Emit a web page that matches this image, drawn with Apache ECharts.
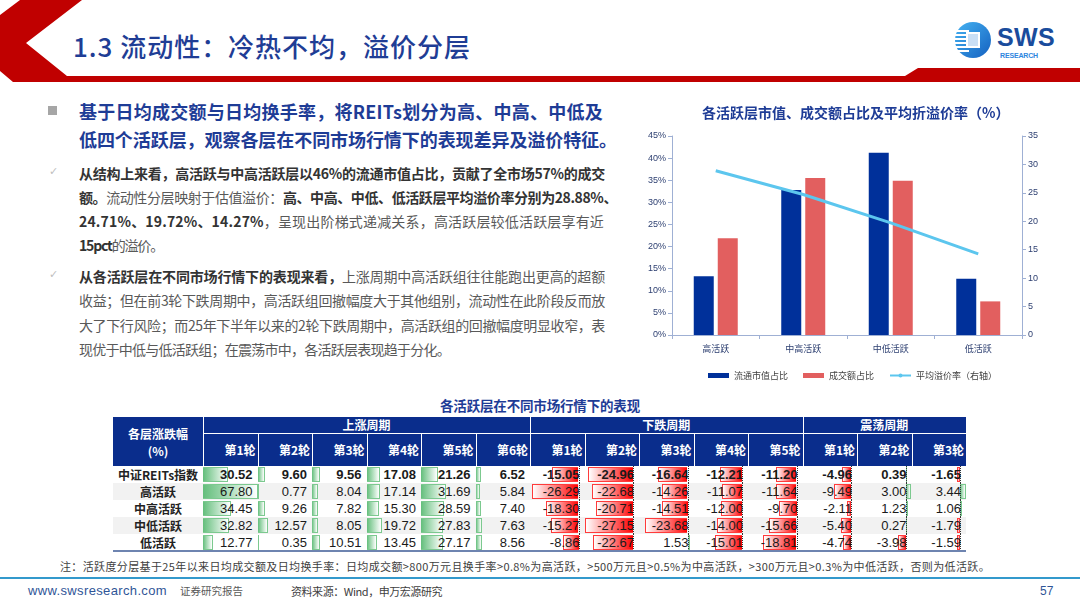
<!DOCTYPE html>
<html lang="zh-CN">
<head>
<meta charset="utf-8">
<title>1.3 流动性：冷热不均，溢价分层</title>
<script src="https://cdn.jsdelivr.net/npm/echarts@6.0.0/dist/echarts.min.js"></script>
<style>
  html, body { margin: 0; padding: 0; background: #fff; }
  body { width: 1080px; height: 608px; overflow: hidden; position: relative; font-family: "Noto Sans CJK SC", sans-serif; }
  .abs { position: absolute; white-space: nowrap; }
  [data-w] { display: inline-block; }
  .t18 { font-size: 18px; line-height: 24px; font-weight: 700; color: #1e3c96; }
  .t14 { font-size: 14px; line-height: 20px; color: #595959; }
  .t14 b { color: #333; font-weight: 700; }
  .tick { font-family: "DejaVu Sans"; font-size: 11px; color: #bfbfbf; }
  #chart { position: absolute; left: 640px; top: 95px; width: 440px; height: 290px; }
  #tbl { position: absolute; left: 113px; top: 417px; width: 853px; height: 136px; font-family: "Liberation Sans", "Noto Sans CJK SC", sans-serif; }
  #tbl div { position: absolute; box-sizing: border-box; }
  .hd { color: #fff; font-family: "Noto Sans CJK SC"; font-weight: 700; font-size: 12px; }
</style>
</head>
<body>
<!-- 页眉 -->
<svg class="abs" style="left:0;top:0" width="1080" height="84">
  <polygon fill="#c00000" points="20,0 82,0 26,43 67,76 905,76 918,68 1080,68 1080,82 13,82 0,71 0,15"/>
</svg>
<div class="abs" style="left:73px;top:28px;font-size:26px;line-height:36px;color:#1f3d95;font-weight:500" data-w="398">1.3 流动性：冷热不均，溢价分层</div>
<svg class="abs" style="left:952px;top:19px" width="44" height="44">
  <defs>
    <linearGradient id="lg" x1="0" y1="0" x2="1" y2="1">
      <stop offset="0" stop-color="#45b3f2"/>
      <stop offset="1" stop-color="#1460c0"/>
    </linearGradient>
  </defs>
  <circle cx="21" cy="21" r="18" fill="url(#lg)"/>
  <g fill="#fff">
    <rect x="4" y="11" width="13" height="2"/>
    <rect x="3" y="15" width="14" height="2"/>
    <rect x="3" y="19" width="14" height="2"/>
    <rect x="3" y="23" width="14" height="2"/>
    <rect x="3" y="27" width="14" height="2"/>
    <rect x="5" y="31" width="12" height="2"/>
    <rect x="14" y="13" width="14" height="16"/>
  </g>
  <rect x="16" y="15" width="10" height="12" fill="#2a7fd6" opacity="0.25"/>
</svg>
<div class="abs" style="left:997px;top:27px;font-family:'Liberation Sans';font-weight:700;font-size:25px;line-height:20px;color:#1a4c9c" data-w="58">SWS</div>
<div class="abs" style="left:1000px;top:52px;font-family:'Liberation Sans';font-weight:700;font-size:7px;line-height:8px;color:#2e86de" data-w="38">RESEARCH</div>

<!-- 正文 -->
<div class="abs" style="left:48px;top:106px;width:9px;height:9px;background:#a6a6a6"></div>
<div class="abs t18" style="left:79px;top:99px" data-w="524">基于日均成交额与日均换手率，将REITs划分为高、中高、中低及</div>
<div class="abs t18" style="left:79px;top:127px" data-w="538">低四个活跃层，观察各层在不同市场行情下的表现差异及溢价特征。</div>

<div class="abs tick" style="left:49px;top:165px">✓</div>
<div class="abs t14" style="left:79px;top:163px" data-w="526"><b>从结构上来看，高活跃与中高活跃层以46%的流通市值占比，贡献了全市场57%的成交</b></div>
<div class="abs t14" style="left:79px;top:187px" data-w="538"><b>额。</b>流动性分层映射于估值溢价：<b>高、中高、中低、低活跃层平均溢价率分别为28.88%、</b></div>
<div class="abs t14" style="left:79px;top:211px" data-w="525"><b>24.71%、19.72%、14.27%</b>，呈现出阶梯式递减关系，高活跃层较低活跃层享有近</div>
<div class="abs t14" style="left:79px;top:235px" data-w="84"><b>15pct</b>的溢价。</div>

<div class="abs tick" style="left:49px;top:268px">✓</div>
<div class="abs t14" style="left:79px;top:266px" data-w="526"><b>从各活跃层在不同市场行情下的表现来看，</b>上涨周期中高活跃组往往能跑出更高的超额</div>
<div class="abs t14" style="left:79px;top:290px" data-w="526">收益；但在前3轮下跌周期中，高活跃组回撤幅度大于其他组别，流动性在此阶段反而放</div>
<div class="abs t14" style="left:79px;top:315px" data-w="526">大了下行风险；而25年下半年以来的2轮下跌周期中，高活跃组的回撤幅度明显收窄，表</div>
<div class="abs t14" style="left:79px;top:339px" data-w="371">现优于中低与低活跃组；在震荡市中，各活跃层表现趋于分化。</div>

<div id="chart"></div>

<div class="abs" style="left:440px;top:396px;font-size:13.5px;line-height:18px;font-weight:700;color:#1e3c96" data-w="200">各活跃层在不同市场行情下的表现</div>
<div id="tbl"></div>

<div class="abs" style="left:60px;top:558px;font-size:11px;line-height:16px;color:#404040" data-w="930">注：活跃度分层基于25年以来日均成交额及日均换手率：日均成交额&gt;800万元且换手率&gt;0.8%为高活跃，&gt;500万元且&gt;0.5%为中高活跃，&gt;300万元且&gt;0.3%为中低活跃，否则为低活跃。</div>

<!-- 页脚 -->
<div class="abs" style="left:0;top:577px;width:1080px;height:2px;background:#3399cc"></div>
<div class="abs" style="left:28px;top:583px;font-family:'Liberation Sans';font-size:13px;line-height:16px;color:#2f5597" data-w="139">www.swsresearch.com</div>
<div class="abs" style="left:180px;top:583px;font-size:10.5px;line-height:15px;color:#595959" data-w="63">证券研究报告</div>
<div class="abs" style="left:291px;top:583px;font-size:11px;line-height:16px;color:#404040" data-w="151">资料来源：Wind，申万宏源研究</div>
<div class="abs" style="left:1040px;top:583px;font-family:'Liberation Sans';font-size:12px;line-height:16px;color:#2f5597">57</div>

<script>
// 图表数据
const tiers = ['高活跃', '中高活跃', '中低活跃', '低活跃']
const floatCapShare = [13.3, 32.8, 41.2, 12.7] // 流通市值占比 %
const turnoverShare = [21.9, 35.5, 34.9, 7.6] // 成交额占比 %
const avgPremium = [28.88, 24.71, 19.72, 14.27] // 平均溢价率（右轴）
const leftAxis = { min: 0, max: 45, interval: 5 }
const rightAxis = { min: 0, max: 35, interval: 5 }

// 表格数据
const rowNames = ['中证REITs指数', '高活跃', '中高活跃', '中低活跃', '低活跃']
const upMoves = [
  [30.52, 9.60, 9.56, 17.08, 21.26, 6.52],
  [67.80, 0.77, 8.04, 17.14, 31.69, 5.84],
  [34.45, 9.26, 7.82, 15.30, 28.59, 7.40],
  [32.82, 12.57, 8.05, 19.72, 27.83, 7.63],
  [12.77, 0.35, 10.51, 13.45, 27.17, 8.56]
]
const downMoves = [
  [-15.05, -24.96, -16.64, -12.21, -11.20],
  [-26.29, -22.68, -14.26, -11.07, -11.64],
  [-18.30, -20.71, -14.51, -12.00, -9.70],
  [-15.27, -27.15, -23.68, -14.00, -15.66],
  [-8.86, -22.67, 1.53, -15.01, -18.81]
]
const rangeMoves = [
  [-4.96, 0.39, -1.65],
  [-9.49, 3.00, 3.44],
  [-2.11, 1.23, 1.06],
  [-5.40, 0.27, -1.79],
  [-4.74, -3.98, -1.59]
]

const axisColor = '#9fb0d4'
const labelColor = '#2f4172'

// 渲染图表
const myChart = echarts.init(document.getElementById('chart'))
myChart.setOption({
  animation: false,
  textStyle: { fontFamily: 'Liberation Sans, Noto Sans CJK SC' },
  title: {
    text: '各活跃层市值、成交额占比及平均折溢价率（%）',
    left: 57,
    top: 6,
    textStyle: { fontSize: 14, fontWeight: 'bold', color: '#1e3c96', fontFamily: 'Noto Sans CJK SC' }
  },
  legend: {
    left: 63,
    top: 271,
    itemWidth: 21,
    itemHeight: 5,
    itemGap: 15,
    textStyle: { fontSize: 9, color: '#404040', fontFamily: 'Noto Sans CJK SC' },
    data: [
      { name: '流通市值占比', icon: 'rect' },
      { name: '成交额占比', icon: 'rect' },
      { name: '平均溢价率（右轴）' }
    ]
  },
  grid: { left: 32, right: 58, top: 41, bottom: 50, outerBoundsMode: 'none' },
  xAxis: {
    type: 'category',
    data: tiers,
    axisLine: { lineStyle: { color: axisColor } },
    axisTick: { show: true, length: 4, lineStyle: { color: axisColor } },
    axisLabel: { color: labelColor, fontSize: 9, margin: 9, fontFamily: 'Noto Sans CJK SC' }
  },
  yAxis: [
    {
      type: 'value',
      min: leftAxis.min,
      max: leftAxis.max,
      interval: leftAxis.interval,
      splitLine: { show: false },
      axisLine: { show: true, lineStyle: { color: axisColor } },
      axisTick: { show: true, length: 4, lineStyle: { color: axisColor } },
      axisLabel: { color: labelColor, fontSize: 9, margin: 6, formatter: '{value}%' }
    },
    {
      type: 'value',
      min: rightAxis.min,
      max: rightAxis.max,
      interval: rightAxis.interval,
      splitLine: { show: false },
      axisLine: { show: true, lineStyle: { color: axisColor } },
      axisTick: { show: true, length: 4, lineStyle: { color: axisColor } },
      axisLabel: { color: labelColor, fontSize: 9, margin: 6 }
    }
  ],
  series: [
    {
      name: '流通市值占比',
      type: 'bar',
      barWidth: 20,
      barGap: '20%',
      data: floatCapShare,
      itemStyle: { color: '#00309a' }
    },
    {
      name: '成交额占比',
      type: 'bar',
      barWidth: 20,
      data: turnoverShare,
      itemStyle: { color: '#e25f5f' }
    },
    {
      name: '平均溢价率（右轴）',
      type: 'line',
      yAxisIndex: 1,
      symbol: 'none',
      data: avgPremium,
      lineStyle: { color: '#5cc6ee', width: 3 },
      itemStyle: { color: '#5cc6ee' },
      z: 5
    }
  ]
})

// 渲染表格
const tbl = document.getElementById('tbl')
const firstW = 90
const colW = (853 - firstW) / 14
const h1 = 16
const h2 = 33
const rowH = 17
const groups = [
  { name: '上涨周期', values: upMoves, axisAt: 0 },
  { name: '下跌周期', values: downMoves, axisAt: 0.89 },
  { name: '震荡周期', values: rangeMoves, axisAt: 0.89 }
]
// 上涨组单独比例尺，下跌与震荡组共用比例尺
const upMax = Math.max(...upMoves.flat().map(Math.abs))
const swingMax = Math.max(...downMoves.flat().concat(rangeMoves.flat()).map(Math.abs))

function box(x, y, w, h, css, html) {
  const d = document.createElement('div')
  d.style.cssText = `left:${x}px;top:${y}px;width:${w}px;height:${h}px;` + (css || '')
  if (html !== undefined) d.innerHTML = html
  tbl.appendChild(d)
  return d
}

// 表头
box(0, 0, 853, h1 + h2, 'background:#0a2d8c')
box(0, 0, firstW, h1 + h2, 'display:flex;align-items:center;justify-content:center;text-align:center;line-height:17px;padding-top:1px', '<span class="hd">各层涨跌幅<br>(%)</span>')
box(firstW, h1, 853 - firstW, 1, 'background:#fff')
let col = 0
groups.forEach(g => {
  const n = g.values[0].length
  const gx = firstW + col * colW
  box(gx, 0, 1, h1 + h2, 'background:#fff')
  box(gx, 0, n * colW, h1, 'text-align:center;line-height:16px', `<span class="hd">${g.name}</span>`)
  for (let i = 0; i < n; i++) {
    const x = firstW + (col + i) * colW
    if (i > 0) box(x, h1, 1, h2, 'background:#fff')
    box(x, h1, colW, h2, `text-align:right;padding-right:2px;line-height:${h2}px`, `<span class="hd">第${i + 1}轮</span>`)
  }
  col += n
})

// 表体
rowNames.forEach((name, r) => {
  const y = h1 + h2 + r * rowH
  const bg = r % 2 === 1 ? '#f2f2f2' : '#fff'
  const bold = r === 0
  box(0, y, 853, rowH, `background:${bg}`)
  box(0, y, firstW, rowH, `text-align:center;line-height:${rowH}px;font-family:'Noto Sans CJK SC';font-weight:700;font-size:12px;color:#222`, name)
  let c = 0
  groups.forEach(g => {
    const scale = g.axisAt === 0 ? upMax : swingMax
    g.values[r].forEach(v => {
      const x = firstW + c * colW
      const cell = box(x, y, colW, rowH, '')
      const full = (g.axisAt === 0 ? 1 : g.axisAt) * colW
      const len = Math.abs(v) / scale * full
      const axisX = g.axisAt * colW
      const bar = document.createElement('div')
      if (v >= 0) {
        bar.style.cssText = `left:${axisX}px;top:1px;width:${len}px;height:${rowH - 2}px;` +
          'background:linear-gradient(to right,#63be7b,#ffffff);border:1px solid #7cc98f;border-left:none'
      } else {
        bar.style.cssText = `left:${axisX - len}px;top:1px;width:${len}px;height:${rowH - 2}px;` +
          'background:linear-gradient(to left,#ff0000,#ffffff);border:1px solid #ff3b3b;border-right:none'
      }
      cell.appendChild(bar)
      if (g.axisAt > 0) {
        const ax = document.createElement('div')
        ax.style.cssText = `left:${axisX}px;top:0;width:0;height:${rowH}px;border-left:1px dotted #333`
        cell.appendChild(ax)
      }
      const t = document.createElement('div')
      t.style.cssText = `left:0;top:0;width:${colW}px;height:${rowH}px;text-align:right;padding-right:5px;` +
        `line-height:${rowH}px;font-size:13px;color:#1a1a1a;font-weight:${bold ? 700 : 400}`
      t.textContent = v.toFixed(2)
      cell.appendChild(t)
      c++
    })
  })
})
box(0, h1 + h2 + 5 * rowH - 1, 853, 1.5, 'background:#6e84b0')

// 文本行宽度对齐
document.querySelectorAll('[data-w]').forEach(el => {
  const n = el.textContent.length
  const w = el.getBoundingClientRect().width
  el.style.letterSpacing = ((+el.dataset.w - w) / n).toFixed(3) + 'px'
})

window.addEventListener('resize', function() {
  myChart.resize()
})
</script>
</body>
</html>
